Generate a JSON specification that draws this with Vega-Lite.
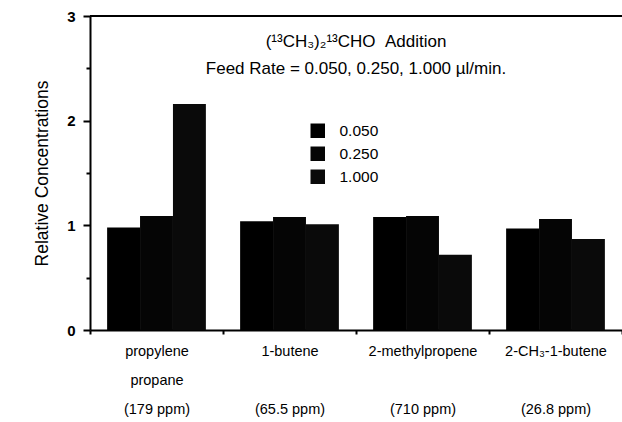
{
  "$schema": "https://vega.github.io/schema/vega-lite/v6.json",
  "width": 532,
  "height": 314,
  "autosize": "none",
  "padding": {"left": 90, "top": 16, "right": 0, "bottom": 92},
  "background": "white",
  "config": {"view": {"stroke": null}, "font": "Liberation Sans"},
  "title": {
    "text": ["(¹³CH₃)₂¹³CHO\u00a0\u00a0Addition", "Feed Rate = 0.050, 0.250, 1.000 µl/min."],
    "fontSize": 17,
    "fontWeight": "normal",
    "lineHeight": 27,
    "baseline": "top",
    "offset": -18,
    "dy": 51,
    "anchor": "middle",
    "frame": "group",
    "color": "black"
  },
  "data": {
    "values": [
      {"compound": "propylene/propane", "rate": "0.050", "value": 0.98},
      {"compound": "propylene/propane", "rate": "0.250", "value": 1.09},
      {"compound": "propylene/propane", "rate": "1.000", "value": 2.16},
      {"compound": "1-butene", "rate": "0.050", "value": 1.04},
      {"compound": "1-butene", "rate": "0.250", "value": 1.08},
      {"compound": "1-butene", "rate": "1.000", "value": 1.01},
      {"compound": "2-methylpropene", "rate": "0.050", "value": 1.08},
      {"compound": "2-methylpropene", "rate": "0.250", "value": 1.09},
      {"compound": "2-methylpropene", "rate": "1.000", "value": 0.72},
      {"compound": "2-CH3-1-butene", "rate": "0.050", "value": 0.97},
      {"compound": "2-CH3-1-butene", "rate": "0.250", "value": 1.06},
      {"compound": "2-CH3-1-butene", "rate": "1.000", "value": 0.87}
    ]
  },
  "layer": [
    {
      "mark": {"type": "bar"},
      "encoding": {
        "x": {
          "field": "compound",
          "type": "nominal",
          "sort": ["propylene/propane", "1-butene", "2-methylpropene", "2-CH3-1-butene"],
          "scale": {"paddingInner": 0, "paddingOuter": 0},
          "axis": {
            "title": null,
            "labelAngle": 0,
            "tickBand": "extent",
            "tickSize": 4,
            "tickWidth": 2,
            "tickColor": "black",
            "domainColor": "black",
            "domainWidth": 2,
            "labelFontSize": 14.5,
            "labelColor": "black",
            "labelPadding": 10,
            "labelLineHeight": 29,
            "labelBaseline": "top",
            "labelOverlap": false,
            "labelExpr": "datum.value == 'propylene/propane' ? ['propylene','propane','(179 ppm)'] : datum.value == '1-butene' ? ['1-butene','\u200b','(65.5 ppm)'] : datum.value == '2-methylpropene' ? ['2-methylpropene','\u200b','(710 ppm)'] : datum.value == '2-CH3-1-butene' ? ['2-CH₃-1-butene','\u200b','(26.8 ppm)'] : ''"
          }
        },
        "xOffset": {
          "field": "rate",
          "type": "nominal",
          "sort": ["0.050", "0.250", "1.000"],
          "scale": {"paddingOuter": 0.52, "paddingInner": 0}
        },
        "y": {
          "field": "value",
          "type": "quantitative",
          "scale": {"domain": [0, 3], "nice": false},
          "axis": {
            "title": "Relative Concentrations",
            "values": [0, 0.5, 1, 1.5, 2, 2.5, 3],
            "labelExpr": "datum.value % 1 === 0 ? format(datum.value, 'd') : ''",
            "labelFontSize": 15,
            "labelFontWeight": "bold",
            "labelColor": "black",
            "labelPadding": 8,
            "tickSize": {"condition": {"test": "datum.value % 1 !== 0", "value": 4}, "value": 7},
            "tickWidth": 2,
            "tickColor": "black",
            "domainWidth": 2,
            "domainColor": "black",
            "grid": false,
            "titleFontSize": 17.5,
            "titleFontWeight": "normal",
            "titleColor": "black",
            "titlePadding": 15
          }
        },
        "fill": {
          "field": "rate",
          "type": "nominal",
          "sort": ["0.050", "0.250", "1.000"],
          "scale": {"range": ["#000000", "#050505", "#0a0a0a"]},
          "legend": {
            "orient": "none",
            "legendX": 220,
            "legendY": 107,
            "title": null,
            "symbolType": "square",
            "symbolSize": 210,
            "symbolStrokeWidth": 0,
            "labelFontSize": 15.5,
            "labelColor": "black",
            "labelOffset": 14,
            "rowPadding": 6
          }
        }
      }
    },
    {
      "mark": {"type": "rule", "strokeWidth": 2, "color": "black"},
      "encoding": {"y": {"datum": 3}}
    }
  ]
}
